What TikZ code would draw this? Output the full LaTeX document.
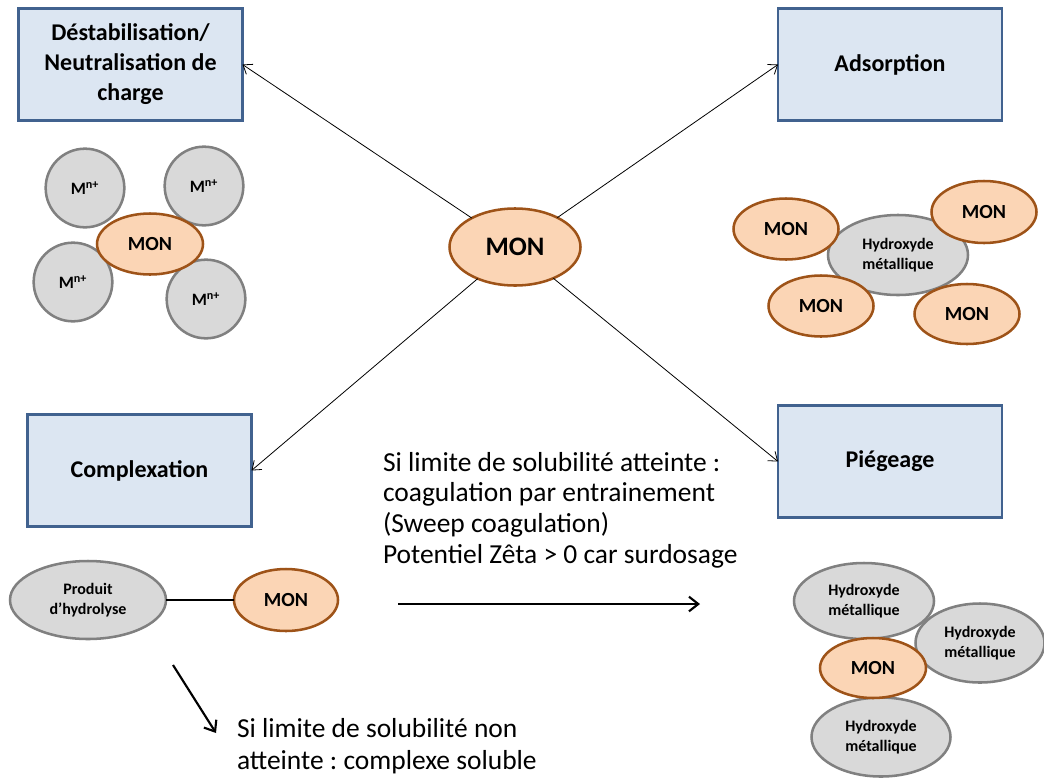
\documentclass[tikz,border=0pt]{standalone}
\usepackage{fontspec}
\setmainfont{Carlito}
\frenchspacing
\usetikzlibrary{shapes.geometric,arrows.meta}
\definecolor{boxfill}{HTML}{DCE6F2}
\definecolor{boxline}{HTML}{41628F}
\definecolor{monfill}{HTML}{FBD5B5}
\definecolor{monline}{HTML}{9E5318}
\definecolor{grayfill}{HTML}{D9D9D9}
\definecolor{grayline}{HTML}{808080}
\begin{document}
\begin{tikzpicture}[x=0.75pt,y=-0.75pt,
  every node/.style={inner sep=0pt, outer sep=0pt},
  procbox/.style={draw=boxline, fill=boxfill, line width=1.6pt,
    minimum width=168pt, minimum height=84pt, align=center,
    font=\fontsize{18}{22.5}\selectfont\bfseries},
  mon/.style 2 args={ellipse, draw=monline, fill=monfill, line width=1.9pt,
    minimum width=#1*0.75pt, minimum height=#2*0.75pt,
    font=\fontsize{15}{18}\selectfont\bfseries},
  hyd/.style 2 args={ellipse, draw=grayline, fill=grayfill, line width=1.9pt,
    minimum width=#1*0.75pt, minimum height=#2*0.75pt, align=center,
    font=\fontsize{12}{15}\selectfont\bfseries},
  ion/.style={circle, draw=grayline, fill=grayfill, line width=1.9pt,
    minimum size=59pt, font=\fontsize{13}{15}\selectfont\bfseries},
  link/.style={line width=0.6pt, -{Straight Barb[length=6pt,width=9pt]}},
  bigarrow/.style={line width=1.6pt, -{Straight Barb[length=7pt,width=11pt]}},
  note/.style={align=left, font=\fontsize{20.6}{23}\selectfont}
]
\useasboundingbox (0,0) rectangle (1044,778);

% process boxes
\node[procbox] (dest) at (130.5,64.5) {Déstabilisation/\\Neutralisation de\\charge};
\node[procbox] (ads)  at (890,64.5) {Adsorption};
\node[procbox] (comp) at (139.5,470.5) {Complexation};
\node[procbox] (pieg) at (890,461.5) {Piégeage};

% central organic matter
\node[mon={131}{77}, font=\fontsize{20}{24}\selectfont\bfseries] (cmon) at (515,247) {MON};

\draw[link] (cmon) -- (dest.east);
\draw[link] (cmon) -- (ads.west);
\draw[link] (cmon) -- (comp.east);
\draw[link] (cmon) -- (pieg.west);

% charge neutralisation: metal cations around the MON
\node[ion] (m1) at (85,188) {M\textsuperscript{n+}};
\node[ion] (m2) at (204,186) {M\textsuperscript{n+}};
\node[ion] (m3) at (73,282) {M\textsuperscript{n+}};
\node[ion] (m4) at (206,299) {M\textsuperscript{n+}};
\node[mon={106}{61}] (dmon) at (150,244) {MON};

% adsorption on the metal hydroxide
\node[hyd={140}{80}] (ahyd) at (898,255) {Hydroxyde\\métallique};
\node[mon={105}{61}] (amon1) at (786,229) {MON};
\node[mon={105}{62}] (amon2) at (984,212) {MON};
\node[mon={105}{61}] (amon3) at (821,306) {MON};
\node[mon={105}{60}] (amon4) at (967,314) {MON};

% complexation
\node[hyd={156}{78}] (prod) at (88,600) {Produit\\d’hydrolyse};
\node[mon={104}{62}] (cxmon) at (286,600) {MON};
\draw[line width=1.6pt] (prod) -- (cxmon);

% trapping in the hydroxide precipitate
\node[hyd={140}{76}] (phyd1) at (864,601) {Hydroxyde\\métallique};
\node[hyd={129}{79}] (phyd2) at (980,643) {Hydroxyde\\métallique};
\node[hyd={139}{79}] (phyd3) at (881,737) {Hydroxyde\\métallique};
\node[mon={106}{60}] (pmon) at (873,668) {MON};

% sweep coagulation note and arrow
\node[note, anchor=north west] (sweep) at (383,452)
  {Si limite de solubilité atteinte :\\coagulation par entrainement\\(Sweep coagulation)\\Potentiel Zêta > 0 car surdosage};
\coordinate (s1) at (398,604);
\coordinate (s2) at (700,604);
\draw[bigarrow] (s1) -- (s2);

% soluble complex note and arrow
\coordinate (c1) at (173,665);
\coordinate (c2) at (216,733);
\draw[bigarrow] (c1) -- (c2);
\node[note, anchor=north west, font=\fontsize{20.6}{24.5}\selectfont] (soluble) at (237,718)
  {Si limite de solubilité non\\atteinte : complexe soluble};
\end{tikzpicture}
\end{document}
